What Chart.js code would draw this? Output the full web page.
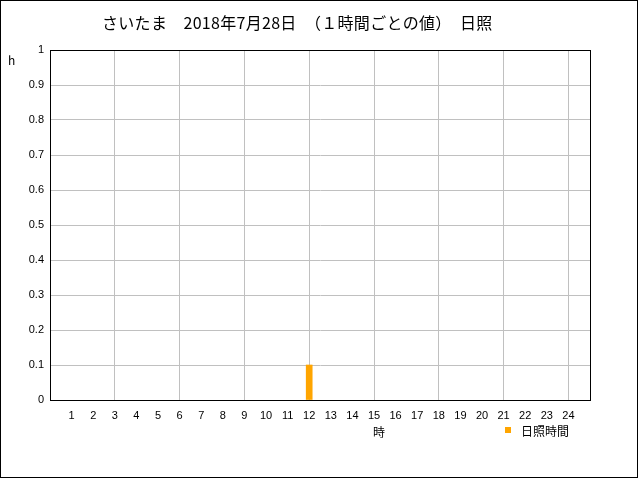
<!DOCTYPE html>
<html>
<head>
<meta charset="utf-8">
<script src="https://cdn.jsdelivr.net/npm/chart.js@4"></script>
<style>
  html, body { margin: 0; padding: 0; background: #fff; }
  #wrap { width: 640px; height: 480px; }
</style>
</head>
<body>
<div id="wrap"><canvas id="chart" width="640" height="480"></canvas></div>
<script>
const titleText = "さいたま　2018年7月28日　（１時間ごとの値）　日照";
const hours = [1, 2, 3, 4, 5, 6, 7, 8, 9, 10, 11, 12, 13, 14, 15, 16, 17, 18, 19, 20, 21, 22, 23, 24];
const sunshine = [0, 0, 0, 0, 0, 0, 0, 0, 0, 0, 0, 0.1, 0, 0, 0, 0, 0, 0, 0, 0, 0, 0, 0, 0];
const yTicks = [0, 0.1, 0.2, 0.3, 0.4, 0.5, 0.6, 0.7, 0.8, 0.9, 1];
const seriesName = "日照時間";

const tickFont = { family: "'Liberation Sans', sans-serif", size: 11 };
const jpFont = "'Noto Sans CJK JP', sans-serif";

// frame, title, axis names and legend
const decor = {
  id: "decor",
  afterDraw(chart) {
    const ctx = chart.ctx;
    const a = chart.chartArea;
    ctx.save();
    ctx.strokeStyle = "#000";
    ctx.lineWidth = 1;
    ctx.strokeRect(Math.round(a.left) + 0.5, Math.round(a.top) + 0.5,
      Math.round(a.right - a.left), Math.round(a.bottom - a.top));
    ctx.strokeRect(0.5, 0.5, 637, 477);

    ctx.fillStyle = "#000";
    ctx.textBaseline = "middle";
    ctx.textAlign = "left";
    ctx.font = "16px " + jpFont;
    ctx.letterSpacing = "0.3px";
    ctx.fillText(titleText, 102, 23);
    ctx.letterSpacing = "0px";

    ctx.font = "12px " + jpFont;
    ctx.fillText("h", 8, 60);
    ctx.textAlign = "center";
    ctx.fillText("時", 379, 432);

    ctx.textAlign = "left";
    ctx.fillStyle = "orange";
    ctx.fillRect(505, 427, 6, 6);
    ctx.fillStyle = "#000";
    ctx.fillText(seriesName, 521, 431);
    ctx.restore();
  }
};

new Chart(document.getElementById("chart"), {
  type: "bar",
  data: {
    datasets: [
      {
        label: seriesName,
        data: hours.map((h, i) => ({ x: h, y: sunshine[i] })).filter((p) => p.y > 0),
        backgroundColor: "orange",
        borderWidth: 0,
        barThickness: 6,
      },
    ],
  },
  options: {
    responsive: false,
    animation: false,
    layout: { padding: { top: 50, right: 50, left: 0, bottom: 0 } },
    plugins: { legend: { display: false }, title: { display: false }, tooltip: { enabled: false } },
    scales: {
      x: {
        type: "linear",
        offset: false,
        min: 0,
        max: 25,
        afterBuildTicks: (s) => { s.ticks = hours.map((v) => ({ value: v })); },
        afterFit: (s) => { s.height = 80; },
        ticks: { color: "#000", font: tickFont, padding: 9, autoSkip: false, maxRotation: 0, callback: (v) => String(v) },
        grid: {
          offset: false,
          drawTicks: false,
          color: (c) => (c.tick && c.tick.value % 3 === 0 ? "#c0c0c0" : "rgba(0,0,0,0)"),
        },
        border: { color: "#000" },
      },
      y: {
        min: 0,
        max: 1,
        afterBuildTicks: (s) => { s.ticks = yTicks.map((v) => ({ value: v })); },
        afterFit: (s) => { s.width = 50; },
        ticks: { color: "#000", font: tickFont, padding: 6, callback: (v) => String(Math.round(v * 10) / 10) },
        grid: { drawTicks: false, color: "#c0c0c0" },
        border: { color: "#000" },
      },
    },
  },
  plugins: [decor],
});
</script>
</body>
</html>
